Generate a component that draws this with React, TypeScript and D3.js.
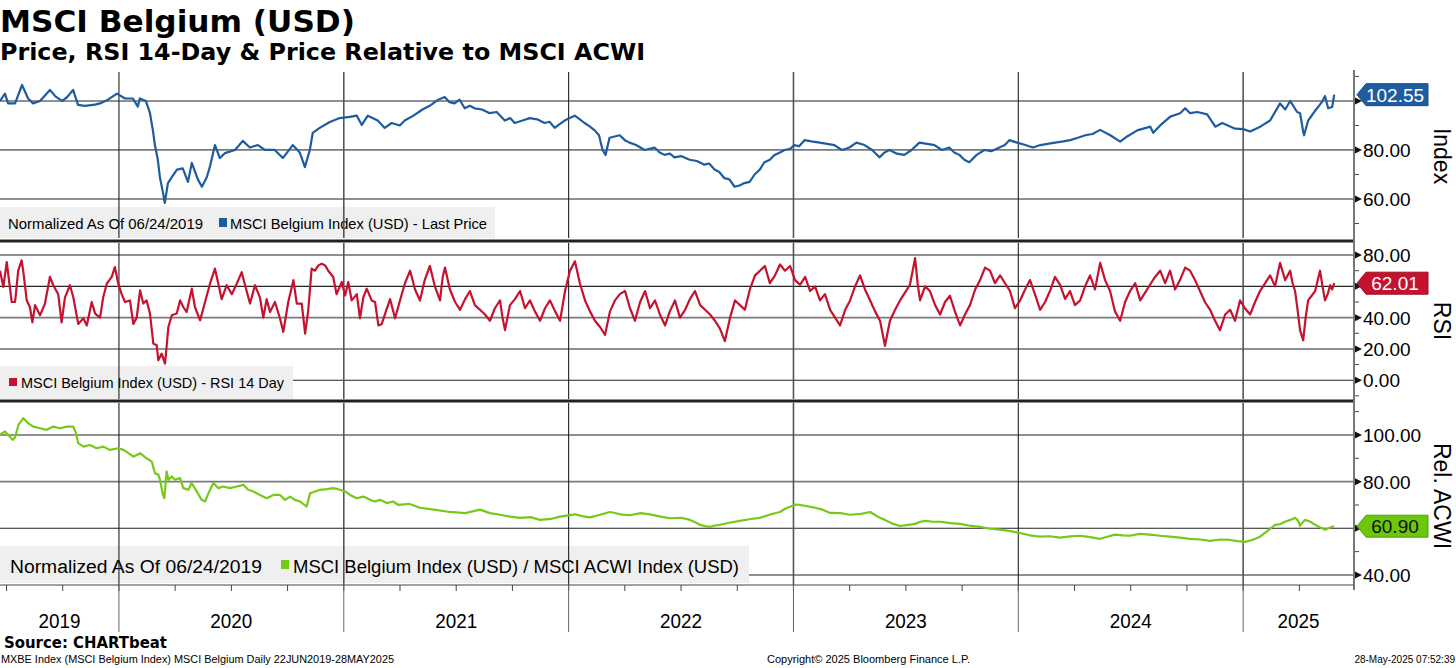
import * as d3 from "d3";

// time is in decimal years
const priceSeries: [number, number][] = [
  [2019.471, 100], [2019.493, 103], [2019.507, 99], [2019.538, 99], [2019.569, 106.5], [2019.596, 101],
  [2019.618, 99], [2019.649, 100], [2019.693, 104.5], [2019.716, 102], [2019.747, 100], [2019.769, 101.5],
  [2019.796, 104.5], [2019.818, 98.4], [2019.849, 98], [2019.893, 98.5], [2019.916, 99], [2019.951, 100.5],
  [2019.991, 103], [2020.027, 101], [2020.062, 101], [2020.084, 97.7], [2020.093, 101], [2020.12, 100],
  [2020.138, 95], [2020.151, 88], [2020.16, 82], [2020.173, 76], [2020.182, 69], [2020.196, 62.5],
  [2020.204, 58.4], [2020.218, 66.5], [2020.236, 69], [2020.258, 72], [2020.284, 72.5], [2020.307, 67],
  [2020.324, 74.7], [2020.351, 68], [2020.369, 65], [2020.391, 69], [2020.404, 73], [2020.427, 82],
  [2020.449, 76.7], [2020.471, 78.7], [2020.516, 80], [2020.551, 83.7], [2020.582, 81], [2020.618, 82],
  [2020.649, 80], [2020.693, 80], [2020.729, 76.7], [2020.773, 82], [2020.804, 79], [2020.827, 73],
  [2020.849, 80], [2020.862, 87], [2020.893, 89], [2020.938, 91.4], [2020.982, 93], [2021.027, 93.5],
  [2021.058, 94], [2021.08, 90.2], [2021.107, 94], [2021.151, 92], [2021.182, 89], [2021.213, 91],
  [2021.249, 90], [2021.271, 92], [2021.31, 94], [2021.35, 96.5], [2021.382, 98], [2021.42, 100.5],
  [2021.449, 101.6], [2021.47, 99.5], [2021.493, 99], [2021.515, 100.5], [2021.538, 97], [2021.56, 98],
  [2021.582, 97], [2021.615, 96.5], [2021.649, 95], [2021.68, 95.5], [2021.716, 92], [2021.74, 93],
  [2021.76, 91], [2021.795, 92], [2021.827, 93], [2021.86, 92.5], [2021.893, 91], [2021.915, 91.5],
  [2021.938, 89], [2021.96, 90.5], [2021.982, 92], [2022.005, 93], [2022.027, 94], [2022.05, 92.5],
  [2022.071, 91], [2022.095, 89.5], [2022.116, 88], [2022.135, 86], [2022.151, 80],
  [2022.164, 78], [2022.182, 85], [2022.205, 85.5], [2022.227, 86], [2022.25, 84], [2022.271, 83],
  [2022.3, 82], [2022.338, 80], [2022.36, 80.5], [2022.382, 81], [2022.405, 79], [2022.427, 78],
  [2022.45, 78.5], [2022.471, 77], [2022.5, 77.5], [2022.538, 76], [2022.57, 75.5], [2022.604, 74],
  [2022.625, 74.5], [2022.649, 72], [2022.67, 71], [2022.693, 68.5], [2022.715, 68], [2022.738, 65],
  [2022.76, 65.5], [2022.782, 66.5], [2022.805, 67], [2022.827, 70], [2022.85, 72], [2022.871, 75],
  [2022.895, 76], [2022.916, 78], [2022.94, 79], [2022.96, 80], [2022.985, 80.5],
  [2023.004, 82], [2023.025, 81.5], [2023.049, 84], [2023.08, 83.5], [2023.116, 83], [2023.15, 82.5],
  [2023.182, 82], [2023.215, 80], [2023.249, 81], [2023.28, 83], [2023.316, 82], [2023.35, 80],
  [2023.382, 77], [2023.405, 79], [2023.427, 80], [2023.46, 78.5], [2023.493, 78], [2023.525, 80],
  [2023.56, 83], [2023.595, 82.5], [2023.627, 82], [2023.66, 80], [2023.693, 81], [2023.715, 79],
  [2023.738, 78], [2023.76, 76], [2023.782, 75], [2023.815, 78], [2023.849, 80], [2023.88, 79.5],
  [2023.916, 81], [2023.94, 82], [2023.96, 84], [2023.995, 83], [2024.031, 82],
  [2024.065, 81], [2024.098, 82], [2024.13, 82.5], [2024.164, 83], [2024.2, 83.5], [2024.231, 84],
  [2024.265, 85], [2024.298, 86], [2024.33, 86.5], [2024.364, 88.2], [2024.409, 86],
  [2024.453, 83.4], [2024.484, 85.5], [2024.529, 88], [2024.587, 89.5], [2024.6, 87], [2024.631, 90],
  [2024.676, 93.6], [2024.72, 95], [2024.742, 97], [2024.764, 95], [2024.796, 95.5], [2024.84, 94.5],
  [2024.876, 89.5], [2024.907, 91], [2024.964, 88.7], [2025.0, 88.5], [2025.031, 87.5], [2025.076, 89.5],
  [2025.12, 92], [2025.164, 99], [2025.187, 96.5], [2025.209, 100], [2025.24, 95.5], [2025.253, 95],
  [2025.267, 87.5], [2025.271, 86], [2025.289, 92], [2025.32, 96], [2025.351, 99.6], [2025.364, 102],
  [2025.378, 97], [2025.396, 97.5], [2025.405, 102.55],
];

const rsiSeries: [number, number][] = [
  [2019.471, 70], [2019.486, 59.6], [2019.501, 75.5], [2019.523, 50], [2019.538, 50], [2019.552, 70],
  [2019.567, 76.6], [2019.575, 69], [2019.59, 51], [2019.604, 46.8], [2019.615, 37], [2019.627, 48],
  [2019.649, 41.5], [2019.671, 49], [2019.693, 66], [2019.708, 60.7], [2019.73, 55], [2019.745, 37],
  [2019.76, 53], [2019.782, 60.7], [2019.797, 53], [2019.819, 36], [2019.842, 39.6], [2019.857, 35],
  [2019.879, 50], [2019.894, 42.6], [2019.916, 40], [2019.93, 53], [2019.946, 61.7], [2019.968, 66],
  [2019.982, 72.3], [2019.997, 61.7], [2020.012, 55], [2020.027, 50], [2020.049, 51], [2020.064, 36],
  [2020.079, 40], [2020.094, 57.5], [2020.108, 49], [2020.123, 51], [2020.138, 42.6], [2020.153, 23.4],
  [2020.168, 22.3], [2020.175, 12.8], [2020.19, 17], [2020.205, 10.6], [2020.22, 34], [2020.235, 41.5],
  [2020.257, 42.6], [2020.272, 51], [2020.286, 46.8], [2020.301, 43.6], [2020.324, 58.5], [2020.338, 46.8],
  [2020.361, 38.3], [2020.383, 50], [2020.405, 61.7], [2020.427, 71.3], [2020.442, 61.7], [2020.457, 51.8],
  [2020.479, 60.7], [2020.502, 55], [2020.524, 61.7], [2020.546, 69], [2020.561, 60.7], [2020.583, 49],
  [2020.605, 60.7], [2020.627, 53], [2020.642, 40], [2020.657, 51.8], [2020.672, 43.6], [2020.694, 50],
  [2020.716, 39.6], [2020.731, 30.9], [2020.753, 50], [2020.776, 63.9], [2020.791, 49], [2020.813, 49],
  [2020.828, 29.8], [2020.842, 44.7], [2020.857, 71.3], [2020.872, 70], [2020.887, 73.4], [2020.902, 74.5],
  [2020.917, 73.4], [2020.931, 70], [2020.953, 66], [2020.968, 55], [2020.991, 62.8], [2021.006, 54.2],
  [2021.02, 62.8], [2021.035, 51], [2021.058, 55], [2021.072, 39.6], [2021.087, 53], [2021.102, 58.5],
  [2021.124, 51], [2021.139, 50], [2021.154, 35], [2021.169, 36], [2021.191, 45.6], [2021.206, 51.8],
  [2021.228, 39.6], [2021.25, 51], [2021.272, 62], [2021.295, 70], [2021.317, 58], [2021.339, 51],
  [2021.36, 64], [2021.383, 73], [2021.405, 60], [2021.428, 51], [2021.44, 66], [2021.45, 72],
  [2021.472, 58], [2021.495, 50], [2021.517, 45], [2021.54, 52], [2021.561, 57], [2021.583, 48],
  [2021.606, 45], [2021.628, 42], [2021.65, 38], [2021.672, 46], [2021.695, 51], [2021.706, 40],
  [2021.717, 32], [2021.739, 48], [2021.762, 52], [2021.784, 57], [2021.806, 46], [2021.828, 51],
  [2021.85, 44], [2021.873, 38], [2021.895, 46], [2021.917, 51], [2021.94, 44], [2021.962, 38],
  [2021.984, 57], [2022.006, 70], [2022.028, 76], [2022.05, 62], [2022.073, 51], [2022.095, 44],
  [2022.117, 38], [2022.14, 34], [2022.162, 29], [2022.184, 44], [2022.206, 51], [2022.228, 55],
  [2022.251, 57], [2022.273, 46], [2022.295, 38], [2022.318, 50], [2022.34, 57], [2022.362, 46],
  [2022.384, 51], [2022.406, 42], [2022.429, 35], [2022.45, 44], [2022.473, 51], [2022.495, 40],
  [2022.518, 45], [2022.54, 52], [2022.562, 57], [2022.585, 48], [2022.607, 45], [2022.629, 42],
  [2022.651, 38], [2022.673, 33], [2022.695, 25], [2022.718, 40], [2022.74, 51], [2022.762, 48],
  [2022.784, 45], [2022.806, 58], [2022.829, 67], [2022.851, 70], [2022.873, 73], [2022.895, 62],
  [2022.918, 67], [2022.94, 74], [2022.962, 70], [2022.985, 73], [2023.007, 64], [2023.029, 61],
  [2023.052, 66], [2023.074, 57], [2023.096, 60], [2023.118, 51], [2023.14, 55], [2023.163, 45],
  [2023.185, 40], [2023.207, 35], [2023.23, 45], [2023.252, 51], [2023.274, 60], [2023.296, 67],
  [2023.318, 58], [2023.341, 51], [2023.363, 44], [2023.385, 38], [2023.407, 22], [2023.429, 38],
  [2023.452, 45], [2023.474, 51], [2023.496, 56], [2023.518, 61], [2023.541, 78], [2023.552, 62],
  [2023.563, 51], [2023.585, 60], [2023.607, 57], [2023.63, 48], [2023.652, 42], [2023.674, 50],
  [2023.696, 54], [2023.718, 44], [2023.741, 35], [2023.763, 42], [2023.785, 48], [2023.808, 58],
  [2023.83, 64], [2023.852, 72], [2023.874, 70], [2023.896, 62], [2023.919, 67], [2023.941, 62],
  [2023.963, 57], [2023.985, 46], [2024.008, 51], [2024.03, 58], [2024.052, 64], [2024.074, 55],
  [2024.097, 45], [2024.119, 50], [2024.141, 57], [2024.163, 66], [2024.186, 61], [2024.208, 52],
  [2024.23, 57], [2024.252, 48], [2024.275, 51], [2024.297, 60], [2024.319, 67], [2024.341, 58],
  [2024.364, 75], [2024.386, 64], [2024.408, 57], [2024.43, 44], [2024.453, 38], [2024.475, 50],
  [2024.497, 57], [2024.52, 62], [2024.542, 51], [2024.564, 56], [2024.586, 61], [2024.608, 66],
  [2024.631, 70], [2024.653, 62], [2024.675, 70], [2024.697, 58], [2024.719, 64], [2024.742, 72],
  [2024.764, 70], [2024.786, 64], [2024.808, 57], [2024.83, 50], [2024.853, 45], [2024.875, 38],
  [2024.897, 32], [2024.92, 42], [2024.942, 45], [2024.964, 38], [2024.986, 51], [2025.008, 46],
  [2025.031, 42], [2025.053, 50], [2025.075, 57], [2025.098, 62], [2025.12, 67], [2025.142, 60],
  [2025.164, 75], [2025.187, 64], [2025.209, 70], [2025.22, 62], [2025.231, 57], [2025.242, 45],
  [2025.253, 32], [2025.267, 25.5], [2025.278, 40], [2025.289, 51], [2025.305, 54], [2025.32, 57],
  [2025.342, 70], [2025.353, 60], [2025.364, 51], [2025.376, 55], [2025.387, 60.7], [2025.396, 58],
  [2025.405, 62.01],
];

const relSeries: [number, number][] = [
  [2019.471, 100], [2019.493, 101.5], [2019.508, 100], [2019.527, 97.9], [2019.538, 99], [2019.553, 104.3],
  [2019.575, 107.2], [2019.597, 105], [2019.619, 103.6], [2019.649, 102.9], [2019.679, 102.2], [2019.708, 103.6],
  [2019.738, 102.9], [2019.768, 103.6], [2019.797, 103.6], [2019.809, 100.8], [2019.819, 96.5], [2019.842, 95],
  [2019.871, 95.7], [2019.901, 94.3], [2019.931, 95], [2019.96, 93.6], [2019.997, 94.3], [2020.02, 93.6],
  [2020.042, 92.2], [2020.064, 90.7], [2020.094, 92.2], [2020.123, 90], [2020.146, 88.6], [2020.16, 83.6],
  [2020.175, 83], [2020.183, 80.8], [2020.194, 75], [2020.202, 72.9], [2020.212, 84.3], [2020.22, 80.8],
  [2020.235, 82.2], [2020.249, 80.8], [2020.272, 81.5], [2020.286, 77.2], [2020.309, 76.5], [2020.323, 79.4],
  [2020.346, 75.8], [2020.368, 72.2], [2020.383, 71.5], [2020.398, 75], [2020.42, 79.4], [2020.442, 77.2],
  [2020.464, 77.9], [2020.494, 77.2], [2020.524, 77.9], [2020.553, 78.6], [2020.575, 76.5], [2020.598, 75.8],
  [2020.627, 74.3], [2020.657, 72.9], [2020.687, 74.3], [2020.716, 74.3], [2020.739, 72.2], [2020.761, 73.6],
  [2020.783, 72.2], [2020.805, 71.5], [2020.835, 69.3], [2020.85, 75], [2020.872, 75.8], [2020.894, 76.5],
  [2020.924, 76.8], [2020.954, 77.2], [2020.983, 76.5], [2021.006, 75.8], [2021.028, 74.3], [2021.057, 72.9],
  [2021.087, 73.6], [2021.117, 72.2], [2021.139, 71.5], [2021.161, 72.2], [2021.191, 70.8], [2021.22, 71.5],
  [2021.243, 70], [2021.29, 70.5], [2021.339, 68.8], [2021.4, 68], [2021.472, 67], [2021.54, 66.5],
  [2021.606, 68], [2021.65, 66.5], [2021.695, 65.8], [2021.74, 65], [2021.784, 64.5], [2021.83, 64.8],
  [2021.873, 63.6], [2021.92, 64], [2021.962, 65], [2022.028, 66], [2022.06, 65.2], [2022.095, 64.7],
  [2022.14, 65.8], [2022.184, 67], [2022.23, 66], [2022.273, 65.6], [2022.32, 66.5], [2022.362, 66],
  [2022.41, 65], [2022.451, 64.3], [2022.5, 64.5], [2022.54, 63.6], [2022.565, 62.5], [2022.584, 61.5],
  [2022.61, 60.8], [2022.629, 60.6], [2022.65, 61.2], [2022.673, 61.5], [2022.72, 62.5], [2022.762, 63.2],
  [2022.81, 64], [2022.851, 64.5], [2022.9, 66], [2022.94, 67], [2022.965, 68.5], [2022.985, 69.2],
  [2023.01, 70.2], [2023.029, 70], [2023.06, 69.5], [2023.096, 68.8], [2023.13, 68], [2023.163, 66.6],
  [2023.21, 66.5], [2023.252, 65.8], [2023.3, 66.2], [2023.341, 67], [2023.375, 65], [2023.407, 63.6],
  [2023.44, 62], [2023.474, 61], [2023.51, 61.5], [2023.541, 61.9], [2023.565, 62.8], [2023.585, 63.2],
  [2023.62, 62.8], [2023.652, 62.8], [2023.7, 62.2], [2023.741, 61.9], [2023.79, 61], [2023.83, 60.6],
  [2023.875, 59.8], [2023.919, 59.4], [2023.965, 58.8], [2024.008, 58], [2024.05, 57], [2024.097, 56.4],
  [2024.14, 56.6], [2024.186, 56], [2024.23, 56.5], [2024.275, 56.8], [2024.32, 56.2], [2024.364, 55.5],
  [2024.4, 56.5], [2024.43, 57.3], [2024.465, 57], [2024.497, 56.8], [2024.54, 57.6], [2024.586, 57.3],
  [2024.63, 56.8], [2024.675, 56.4], [2024.72, 56], [2024.764, 55.5], [2024.81, 55.2], [2024.853, 54.6],
  [2024.9, 55.2], [2024.942, 55], [2024.975, 54.5], [2025.008, 54.2], [2025.04, 55], [2025.075, 56.4],
  [2025.11, 59], [2025.142, 61.5], [2025.165, 61.8], [2025.186, 62.8], [2025.21, 63.6], [2025.231, 64.5],
  [2025.245, 63.2], [2025.253, 61], [2025.264, 62.5], [2025.275, 63.6], [2025.3, 62.8], [2025.32, 61.5],
  [2025.342, 60.4], [2025.364, 59.4], [2025.385, 60.2], [2025.405, 60.9],
];

const yearBreaks = [2020, 2021, 2022, 2023, 2024, 2025];
const yearLabels = ["2019", "2020", "2021", "2022", "2023", "2024", "2025"];
const priceTicks = [60, 80, 100];
const priceMinor = [50, 70, 90, 110];
const rsiTicks = [0, 20, 40, 60, 80];
const rsiMinor = [-10, 10, 30, 50, 70];
const relTicks = [40, 60, 80, 100];
const relMinor = [50, 70, 90, 110];

const FONT = "'Liberation Sans', Arial, sans-serif";
const BOLD = "'DejaVu Sans', Verdana, sans-serif";
const AX = 1354;

const x = d3.scaleLinear().domain([2019.471, 2025.493]).range([0, AX]);

interface PanelProps {
  y: d3.ScaleLinear<number, number>;
  ticks: number[];
  minor: number[];
  grayTicks: number[];
  data: [number, number][];
  color: string;
  title: string;
  titleY: number;
  tag: string;
  tagFill: string;
  tagText: string;
  legend: React.ReactNode;
}

function Panel({ y, ticks, minor, grayTicks, data, color, title, titleY, tag, tagFill, tagText, legend }: PanelProps) {
  const [top, bottom] = [y.range()[1], y.range()[0]];
  const line = d3
    .line<[number, number]>()
    .x((d) => x(d[0]))
    .y((d) => y(d[1]));
  const last = data[data.length - 1];
  const ty = y(last[1]);
  return (
    <g>
      {ticks.map((t) => (
        <line
          key={t}
          x1={0}
          x2={AX}
          y1={y(t)}
          y2={y(t)}
          stroke={grayTicks.includes(t) ? "#7a7a7a" : "#222"}
          strokeWidth={grayTicks.includes(t) ? 1.8 : 1.1}
        />
      ))}
      {legend}
      {yearBreaks.map((yr) => (
        <line key={yr} x1={x(yr)} x2={x(yr)} y1={top} y2={bottom} stroke={yr % 2 ? "#555" : "#222"} strokeWidth={yr % 2 ? 1.6 : 1.1} />
      ))}
      <path d={line(data) ?? ""} fill="none" stroke={color} strokeWidth={2.2} strokeLinejoin="round" />
      {minor.map((t) => (
        <line key={t} x1={AX} x2={AX + 5} y1={y(t)} y2={y(t)} stroke="#444" strokeWidth={1} />
      ))}
      {ticks.map((t) => (
        <g key={t}>
          <path d={`M${AX},${y(t) - 4}L${AX + 8},${y(t)}L${AX},${y(t) + 4}Z`} fill="#111" />
          {/* the label under the last-value tag is hidden, as in the original */}
          {Math.abs(y(t) - ty) > 14 && (
            <text x={1363} y={y(t) + 7} fontFamily={FONT} fontSize={19} fill="#000">
              {t.toFixed(2)}
            </text>
          )}
        </g>
      ))}
      <path
        d={`M${AX + 3},${ty}L${AX + 12},${ty - 11}L1428,${ty - 11}L1428,${ty + 11}L${AX + 12},${ty + 11}Z`}
        fill={tagFill}
        stroke={d3.color(tagFill)?.darker(0.6).toString()}
        strokeWidth={1}
      />
      <text x={1395} y={ty + 7} textAnchor="middle" fontFamily={FONT} fontSize={19} fill={tagText}>
        {tag}
      </text>
      <text
        transform={`translate(1434, ${titleY}) rotate(90)`}
        textAnchor="middle"
        fontFamily={FONT}
        fontSize={23}
        fill="#000"
      >
        {title}
      </text>
    </g>
  );
}

export default function App() {
  const yPrice = d3.scaleLinear().domain([44.1, 111.8]).range([238, 72]);
  const yRsi = d3.scaleLinear().domain([-12, 87.7]).range([399, 243]);
  const yRel = d3.scaleLinear().domain([35.7, 113.7]).range([585, 403]);
  const quarters = d3.range(2019.5, 2025.5, 0.25);
  const labelCenters = [2019.471, ...yearBreaks, 2025.493];

  return (
    <svg
      width={1456}
      height={668}
      viewBox="0 0 1456 668"
      style={{ position: "absolute", left: 0, top: 0, background: "#fff" }}
    >
      <rect width={1456} height={668} fill="#fff" />
      <text x={0} y={32} fontFamily={BOLD} fontWeight="bold" fontSize={30} textLength={355} lengthAdjust="spacingAndGlyphs">
        MSCI Belgium (USD)
      </text>
      <text x={0} y={60} fontFamily={BOLD} fontWeight="bold" fontSize={23} textLength={645} lengthAdjust="spacingAndGlyphs">
        Price, RSI 14-Day &amp; Price Relative to MSCI ACWI
      </text>

      <Panel
        y={yPrice}
        ticks={priceTicks}
        minor={priceMinor}
        grayTicks={[80]}
        data={priceSeries}
        color="#1f5c9e"
        title="Index"
        titleY={156}
        tag="102.55"
        tagFill="#1f5c9e"
        tagText="#fff"
        legend={
          <g>
            <rect x={0} y={207} width={495} height={31} fill="#efefef" />
            <text x={8} y={229} fontFamily={FONT} fontSize={15} textLength={195} lengthAdjust="spacingAndGlyphs">
              Normalized As Of 06/24/2019
            </text>
            <rect x={219} y={218} width={8} height={9} fill="#1f5c9e" />
            <text x={230} y={229} fontFamily={FONT} fontSize={15} textLength={257} lengthAdjust="spacingAndGlyphs">
              MSCI Belgium Index (USD) - Last Price
            </text>
          </g>
        }
      />
      <Panel
        y={yRsi}
        ticks={rsiTicks}
        minor={rsiMinor}
        grayTicks={[40]}
        data={rsiSeries}
        color="#c4122f"
        title="RSI"
        titleY={321}
        tag="62.01"
        tagFill="#c4122f"
        tagText="#fff"
        legend={
          <g>
            <rect x={0} y={366} width={293} height={33} fill="#efefef" />
            <rect x={9} y={378} width={8} height={8} fill="#c4122f" />
            <text x={21} y={388} fontFamily={FONT} fontSize={15} textLength={263} lengthAdjust="spacingAndGlyphs">
              MSCI Belgium Index (USD) - RSI 14 Day
            </text>
          </g>
        }
      />
      <Panel
        y={yRel}
        ticks={relTicks}
        minor={relMinor}
        grayTicks={[80]}
        data={relSeries}
        color="#78c81a"
        title="Rel. ACWI"
        titleY={496}
        tag="60.90"
        tagFill="#6cc70c"
        tagText="#111"
        legend={
          <g>
            <rect x={0} y={546} width={749} height={37} fill="#efefef" />
            <text x={10} y={573} fontFamily={FONT} fontSize={18} textLength={252} lengthAdjust="spacingAndGlyphs">
              Normalized As Of 06/24/2019
            </text>
            <rect x={281} y={560} width={8} height={9} fill="#78c81a" />
            <text x={293} y={573} fontFamily={FONT} fontSize={18} textLength={446} lengthAdjust="spacingAndGlyphs">
              MSCI Belgium Index (USD) / MSCI ACWI Index (USD)
            </text>
          </g>
        }
      />

      {/* panel separators */}
      <line x1={0} x2={AX} y1={241} y2={241} stroke="#222" strokeWidth={3} />
      <line x1={0} x2={AX} y1={401} y2={401} stroke="#222" strokeWidth={3} />

      {/* right axis */}
      <line x1={AX} x2={AX} y1={70} y2={590} stroke="#777" strokeWidth={2} />

      {/* x axis */}
      <line x1={0} x2={AX} y1={585} y2={585} stroke="#444" strokeWidth={1} />
      {quarters.map((q) => (
        <line key={q} x1={x(q)} x2={x(q)} y1={585} y2={591} stroke="#444" strokeWidth={1} />
      ))}
      {yearBreaks.map((yr) => (
        <line key={yr} x1={x(yr)} x2={x(yr)} y1={585} y2={632} stroke="#666" strokeWidth={1} />
      ))}
      {yearLabels.map((lab, i) => (
        <text
          key={lab}
          x={(x(labelCenters[i]) + x(labelCenters[i + 1])) / 2}
          y={628}
          textAnchor="middle"
          fontFamily={FONT}
          fontSize={20}
          textLength={42}
          lengthAdjust="spacingAndGlyphs"
        >
          {lab}
        </text>
      ))}

      {/* footer */}
      <text x={4} y={648} fontFamily={BOLD} fontWeight="bold" fontSize={15} textLength={163} lengthAdjust="spacingAndGlyphs">
        Source: CHARTbeat
      </text>
      <text x={1} y={663} fontFamily={FONT} fontSize={10} textLength={393} lengthAdjust="spacingAndGlyphs">
        MXBE Index (MSCI Belgium Index) MSCI Belgium  Daily 22JUN2019-28MAY2025
      </text>
      <text x={767} y={663} fontFamily={FONT} fontSize={10} textLength={203} lengthAdjust="spacingAndGlyphs">
        Copyright© 2025 Bloomberg Finance L.P.
      </text>
      <text x={1455} y={663} textAnchor="end" fontFamily={FONT} fontSize={10}>
        28-May-2025 07:52:39
      </text>
    </svg>
  );
}
